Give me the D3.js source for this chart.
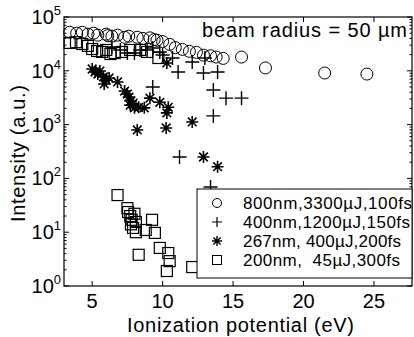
<!DOCTYPE html>
<html>
<head>
<meta charset="utf-8">
<script src="https://cdn.jsdelivr.net/npm/d3@7"></script>
<style>
  body { margin: 0; background: #fff; }
  svg { display: block; font-family: "Liberation Sans", Arial, sans-serif; }
</style>
</head>
<body>
<div id="canvas"></div>
<script>
// ionization potential (eV) vs ion intensity (a.u.)

// 800nm, 3300uJ, 100fs  (circles)
const ip800 = [3.4, 3.9, 4.3, 4.7, 5.1, 5.4, 6.0, 6.1, 6.4, 6.8, 7.3, 7.6, 8.2, 8.6, 9.1, 9.4, 9.6, 10.0, 10.5, 10.9, 11.4, 11.9, 12.4, 12.9, 13.4, 13.8, 14.3, 15.6, 17.3, 21.5, 24.5];
const int800 = [52000, 50000, 52000, 48000, 50000, 46000, 48000, 45000, 44000, 46000, 42000, 44000, 42000, 40000, 41000, 38000, 37000, 35000, 31000, 27000, 25000, 23000, 22000, 19500, 19000, 18000, 17000, 18000, 11300, 9100, 8700];

// 400nm, 1200uJ, 150fs  (plus)
const ip400 = [6.4, 7.0, 7.5, 8.0, 8.4, 8.9, 9.3, 9.8, 10.0, 10.7, 12.1, 13.0, 11.1, 12.9, 13.9, 9.3, 13.6, 14.5, 15.6, 13.6, 11.2, 13.4];
const int400 = [27700, 24400, 21400, 21400, 24400, 24400, 26500, 22400, 19700, 17300, 14600, 17300, 9500, 9100, 9500, 5000, 4400, 3100, 3100, 1450, 250, 69];

// 267nm, 400uJ, 200fs  (asterisk)
const ip267 = [5.0, 5.2, 5.4, 5.55, 5.8, 6.0, 5.85, 6.2, 6.8, 7.3, 7.5, 7.6, 7.75, 7.7, 7.9, 8.0, 8.3, 8.7, 9.1, 9.8, 10.4, 10.3, 10.25, 8.2, 12.1, 12.9, 13.9, 10.3];
const int267 = [10800, 9500, 8700, 9900, 7700, 6700, 5700, 7350, 6200, 4200, 3700, 3250, 2750, 2300, 2500, 2050, 2100, 2050, 3100, 2600, 2100, 1650, 865, 795, 1120, 250, 165, 14000];

// 200nm, 45uJ, 300fs  (squares)
const ip200 = [3.4, 3.85, 4.3, 4.7, 5.0, 5.35, 5.7, 6.0, 6.3, 6.6, 7.1, 7.7, 8.4, 8.9, 9.7,
               6.8, 7.5, 7.55, 7.7, 7.8, 7.75, 7.9, 8.1, 8.0, 8.1, 8.8, 9.25, 9.45, 8.3, 9.8, 10.4, 10.5, 10.3, 12.1];
const int200 = [33000, 34000, 31500, 29000, 25400, 23300, 22400, 24400, 20500, 21400, 22400, 24400, 24400, 22400, 17300,
                49, 28, 23.7, 20, 17, 14, 12, 10, 22, 15.5, 11, 17, 9.7, 3.8, 5.1, 4.1, 2.9, 1.9, 2.25];

const legendLabels = ["800nm,3300\u00b5J,100fs", "400nm,1200\u00b5J,150fs", "267nm, 400\u00b5J,200fs", "200nm,  45\u00b5J,300fs"];
const legendWidths = [169, 167, 158, 157];
const xTicks = [5, 10, 15, 20, 25];
const yTicks = [1, 10, 100, 1000, 10000, 100000];

const W = 414, H = 337;
const margin = {top: 17, right: 2, bottom: 51, left: 64},
    width = W - margin.left - margin.right,
    height = H - margin.top - margin.bottom;

const svg = d3.select("#canvas")
    .append("svg")
    .attr("width", W)
    .attr("height", H);

const g = svg.append("g")
    .attr("transform", "translate(" + margin.left + "," + margin.top + ")");

const x = d3.scaleLinear().domain([3, 27.7]).range([0, width]);
const y = d3.scaleLog().domain([1, 1e5]).range([height, 0]);

// frame
g.append("rect")
    .attr("width", width)
    .attr("height", height)
    .style("fill", "none")
    .style("stroke", "#000")
    .style("stroke-width", 1.2);

// ticks (inward), bottom & top
xTicks.forEach(function(t) {
    g.append("line").attr("x1", x(t)).attr("x2", x(t)).attr("y1", height).attr("y2", height - 5).style("stroke", "#000");
    g.append("line").attr("x1", x(t)).attr("x2", x(t)).attr("y1", 0).attr("y2", 5).style("stroke", "#000");
    g.append("text")
        .attr("x", x(t))
        .attr("y", height + 22)
        .attr("text-anchor", "middle")
        .style("font-size", "20px")
        .text(t);
});

// log ticks, left & right, with minor ticks
yTicks.forEach(function(t, i) {
    g.append("line").attr("x1", 0).attr("x2", 5).attr("y1", y(t)).attr("y2", y(t)).style("stroke", "#000");
    g.append("line").attr("x1", width).attr("x2", width - 5).attr("y1", y(t)).attr("y2", y(t)).style("stroke", "#000");
    if (i < yTicks.length - 1) {
        d3.range(2, 10).forEach(function(m) {
            const v = t * m;
            g.append("line").attr("x1", 0).attr("x2", 2.5).attr("y1", y(v)).attr("y2", y(v)).style("stroke", "#000");
            g.append("line").attr("x1", width).attr("x2", width - 2.5).attr("y1", y(v)).attr("y2", y(v)).style("stroke", "#000");
        });
    }
    const lab = g.append("text")
        .attr("x", -3)
        .attr("y", y(t) + 7)
        .attr("text-anchor", "end")
        .style("font-size", "20px");
    lab.append("tspan").text("10");
    lab.append("tspan").attr("dy", -9).style("font-size", "13px").text(Math.round(Math.log10(t)));
});

// marker shapes
const plusPath = function(s) { return "M" + (-s) + ",0H" + s + "M0," + (-s) + "V" + s; };
const starPath = function(s) {
    const d = s * 0.72;
    return plusPath(s) + "M" + (-d) + "," + (-d) + "L" + d + "," + d + "M" + (-d) + "," + d + "L" + d + "," + (-d);
};

const pts = function(xs, ys) { return xs.map(function(v, i) { return {ip: v, val: ys[i]}; }); };

g.append("g").selectAll("circle")
    .data(pts(ip800, int800))
    .enter()
    .append("circle")
    .attr("cx", d => x(d.ip))
    .attr("cy", d => y(d.val))
    .attr("r", 6)
    .style("fill", "none")
    .style("stroke", "#000")
    .style("stroke-width", 1);

g.append("g").selectAll("rect")
    .data(pts(ip200, int200))
    .enter()
    .append("rect")
    .attr("x", d => x(d.ip) - 5.5)
    .attr("y", d => y(d.val) - 5.5)
    .attr("width", 11)
    .attr("height", 11)
    .style("fill", "none")
    .style("stroke", "#000")
    .style("stroke-width", 1.2);

g.append("g").selectAll("path")
    .data(pts(ip400, int400))
    .enter()
    .append("path")
    .attr("transform", d => "translate(" + x(d.ip) + "," + y(d.val) + ")")
    .attr("d", plusPath(7))
    .style("fill", "none")
    .style("stroke", "#000")
    .style("stroke-width", 1.4);

g.append("g").selectAll("path")
    .data(pts(ip267, int267))
    .enter()
    .append("path")
    .attr("transform", d => "translate(" + x(d.ip) + "," + y(d.val) + ")")
    .attr("d", starPath(6))
    .style("fill", "none")
    .style("stroke", "#000")
    .style("stroke-width", 1.6);

// annotation
g.append("text")
    .attr("x", 202 - margin.left)
    .attr("y", 37 - margin.top)
    .attr("textLength", 205)
    .style("font-size", "20px")
    .text("beam radius = 50 \u00b5m");

// legend
const leg = svg.append("g");
leg.append("rect")
    .attr("x", 197)
    .attr("y", 189)
    .attr("width", 215)
    .attr("height", 89)
    .style("fill", "#fff")
    .style("stroke", "#000")
    .style("stroke-width", 1);

const rowY = [203, 222, 241, 260];
const symX = 217;
leg.append("circle").attr("cx", symX).attr("cy", rowY[0]).attr("r", 4.5)
    .style("fill", "none").style("stroke", "#000");
leg.append("path").attr("transform", "translate(" + symX + "," + rowY[1] + ")").attr("d", plusPath(5))
    .style("fill", "none").style("stroke", "#000").style("stroke-width", 1.2);
leg.append("path").attr("transform", "translate(" + symX + "," + rowY[2] + ")").attr("d", starPath(5))
    .style("fill", "none").style("stroke", "#000").style("stroke-width", 1.4);
leg.append("rect").attr("x", symX - 4.5).attr("y", rowY[3] - 4.5).attr("width", 9).attr("height", 9)
    .style("fill", "none").style("stroke", "#000");

legendLabels.forEach(function(s, i) {
    leg.append("text")
        .attr("x", 243)
        .attr("y", rowY[i] + 6)
        .attr("textLength", legendWidths[i])
        .style("white-space", "pre")
        .style("font-size", "17px")
        .text(s);
});

// axis titles
svg.append("text")
    .attr("x", 127)
    .attr("y", 332)
    .attr("textLength", 227)
    .style("font-size", "20px")
    .text("Ionization potential (eV)");

svg.append("text")
    .attr("transform", "translate(25,222) rotate(-90)")
    .attr("textLength", 137)
    .style("font-size", "20px")
    .text("Intensity (a.u.)");
</script>
</body>
</html>
